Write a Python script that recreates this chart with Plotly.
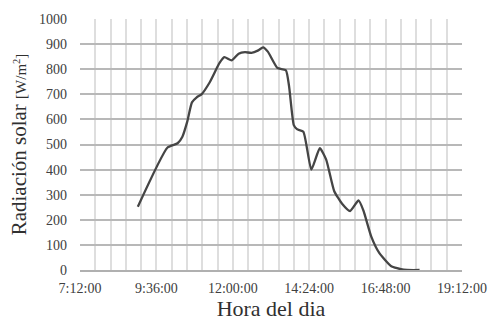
import pandas as pd
import plotly.graph_objects as go

# Solar radiation readings over the day
hora = ["09:01", "09:57", "10:16", "10:25", "10:34", "10:43", "10:52", "11:01",
        "11:16", "11:35", "11:44", "11:58", "12:11", "12:23", "12:35", "12:48",
        "12:57", "13:06", "13:24", "13:40", "13:46", "13:55", "14:01", "14:13",
        "14:28", "14:44", "14:56", "15:11", "15:26", "15:41", "15:57", "16:06",
        "16:21", "16:36", "16:58", "17:22", "17:52"]
radiacion = [252, 488, 505, 531, 590, 668, 688, 700,
             746, 825, 848, 835, 862, 868, 865, 875,
             887, 870, 805, 796, 733, 577, 561, 551,
             400, 485, 440, 315, 264, 235, 277, 238,
             133, 68, 16, 1, 0]

x_ticks = ["07:12", "09:36", "12:00", "14:24", "16:48", "19:12"]
x_tick_labels = ["7:12:00", "9:36:00", "12:00:00", "14:24:00", "16:48:00", "19:12:00"]

base = "2020-01-01 "
x = pd.to_datetime([base + h for h in hora])
tickvals = pd.to_datetime([base + h for h in x_ticks])

serif = "Liberation Serif, Times New Roman, serif"

fig = go.Figure()
fig.add_trace(go.Scatter(
    x=x, y=radiacion, mode="lines",
    line=dict(color="#454545", width=2.3, shape="spline", smoothing=0.5),
    showlegend=False, hoverinfo="skip",
))

fig.update_layout(
    width=499, height=326,
    margin=dict(l=80, r=25, t=15, b=55),
    paper_bgcolor="white", plot_bgcolor="white",
    font=dict(family=serif, color="#404040", size=14),
    xaxis=dict(
        range=[tickvals[0], tickvals[-1]],
        tickvals=tickvals, ticktext=x_tick_labels,
        tickfont=dict(size=14, family=serif, color="#404040"),
        showgrid=True, gridcolor="#dedede", gridwidth=2,
        minor=dict(dtick=1728000, tick0=tickvals[0], showgrid=True,
                   gridcolor="#dedede", gridwidth=2),
        ticks="", zeroline=False,
        showline=True, linecolor="#b0b0b0", linewidth=1.5,
        title=dict(text="Hora del dia", font=dict(size=22, family=serif, color="#303030"),
                   standoff=3),
        ticklabelstandoff=4,
    ),
    yaxis=dict(
        range=[0, 1000], dtick=100,
        tickfont=dict(size=14, family=serif, color="#404040"),
        showgrid=True, gridcolor="#b8b8b8", gridwidth=1.5,
        ticks="", zeroline=False,
        showline=False,
        title=dict(text="Radiación solar <span style='font-size:15px'>[W/m<sup>2</sup>]</span>",
                   font=dict(size=21, family=serif, color="#303030"), standoff=6),
        ticklabelstandoff=12,
    ),
)

fig.write_html("out.html")
